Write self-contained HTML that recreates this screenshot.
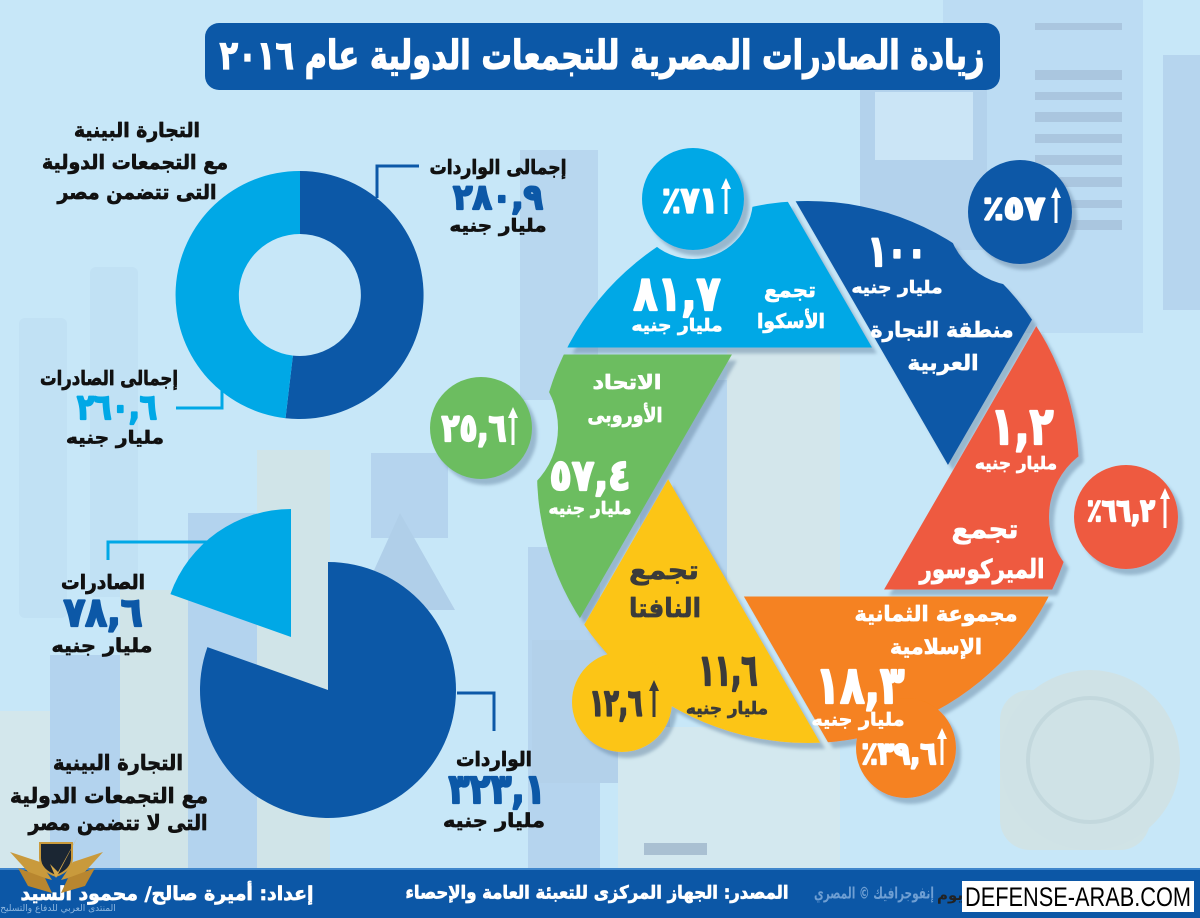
<!DOCTYPE html>
<html><head><meta charset="utf-8"><style>
html,body{margin:0;padding:0;background:#c7e7f8;width:1200px;height:918px;overflow:hidden;}
svg{display:block;overflow:hidden;}
text{font-family:"DejaVu Sans","Liberation Sans",sans-serif;font-weight:bold;paint-order:stroke;}
.n{stroke-width:2.2px;stroke-linejoin:round;}
.l{stroke-width:0.7px;stroke-linejoin:round;}
</style></head><body>
<svg width="1200" height="918" viewBox="0 0 1200 918" xmlns="http://www.w3.org/2000/svg">
<defs>
<clipPath id="rc"><circle cx="808" cy="472" r="271"/></clipPath>
<clipPath id="page"><rect x="0" y="0" width="1200" height="918"/></clipPath>
<mask id="m" maskUnits="userSpaceOnUse" x="0" y="0" width="1200" height="918">
<rect x="0" y="0" width="1200" height="918" fill="#fff"/>
<g stroke="#000" stroke-width="7" fill="none">
<path d="M948 472 L710 60"/><path d="M878 593 L1115 183"/><path d="M738 593 L1150 593"/>
<path d="M668 472 L900 874"/><path d="M738 351 L505 755"/><path d="M878 351 L450 351"/>
</g>
<circle cx="693" cy="199" r="60" fill="#000"/>
<circle cx="1020" cy="212" r="74" fill="#000"/>
<circle cx="481" cy="428" r="77" fill="#000"/>
<circle cx="1126" cy="517" r="77" fill="#000"/>
</mask>
<filter id="sh" x="-10%" y="-10%" width="130%" height="130%"><feDropShadow dx="5" dy="6" stdDeviation="1.5" flood-color="#5d7f9c" flood-opacity="0.45"/></filter>
</defs>
<g clip-path="url(#page)">
<!-- background -->
<rect x="0" y="0" width="1200" height="918" fill="#c7e7f8"/>
<g>
<rect x="19" y="318" width="48" height="300" rx="6" fill="#c1e1f4"/>
<rect x="90" y="267" width="48" height="330" rx="6" fill="#c1e1f4"/>
<rect x="0" y="711" width="50" height="160" fill="#d3e7ec"/>
<rect x="50" y="655" width="70" height="215" fill="#b3d3ee"/>
<rect x="120" y="590" width="68" height="280" fill="#d0e4e8"/>
<rect x="188" y="513" width="69" height="357" fill="#b3d3ee"/>
<rect x="257" y="450" width="73" height="420" fill="#d0e4e8"/>
<rect x="371" y="453" width="77" height="85" fill="#b5d4ee"/>
<polygon points="400,513 356,610 455,610" fill="#b0cfe9"/>
<rect x="528" y="547" width="72" height="323" fill="#b5d4ee"/>
<rect x="532" y="640" width="138" height="143" fill="#b3d1ea"/>
<rect x="618" y="727" width="222" height="143" fill="#d3e8ef"/>
<rect x="644" y="843" width="63" height="12" fill="#a9c0d2"/>
<rect x="520" y="150" width="78" height="250" fill="#b8d7ef"/>
<rect x="640" y="380" width="87" height="220" fill="#b7d6ef"/>
<rect x="727" y="349" width="113" height="250" fill="#d3e6eb"/>
<rect x="943" y="0" width="200" height="333" fill="#bcdcf3"/>
<g fill="#aac6df">
<rect x="1035" y="23" width="87" height="7"/><rect x="1035" y="70" width="87" height="10"/>
<rect x="1035" y="92" width="87" height="8"/><rect x="1035" y="112" width="87" height="10"/>
<rect x="1035" y="134" width="87" height="9"/><rect x="1035" y="155" width="87" height="10"/>
<rect x="1035" y="177" width="87" height="10"/><rect x="1035" y="200" width="87" height="8"/>
<rect x="1035" y="220" width="87" height="10"/>
</g>
<rect x="860" y="90" width="127" height="160" fill="#b3d2ec"/>
<rect x="875" y="92" width="98" height="68" fill="#cbe5f6"/>
<rect x="1163" y="55" width="37" height="255" fill="#b6d5ee"/>
<rect x="1000" y="690" width="150" height="160" rx="30" fill="#d0e3e6"/>
<circle cx="1090" cy="760" r="90" fill="#cfe2e6"/>
<circle cx="1090" cy="760" r="62" fill="none" stroke="#c3d8dd" stroke-width="4"/>
</g>

<!-- title -->
<rect x="205" y="23" width="795" height="67" rx="14" fill="#0c58a7"/>
<text x="602" y="56" text-anchor="middle" dominant-baseline="central" direction="rtl" font-size="40" fill="#fff" stroke="#fff" stroke-width="1.2" textLength="765" lengthAdjust="spacingAndGlyphs">زيادة الصادرات المصرية للتجمعات الدولية عام ٢٠١٦</text>

<!-- donut -->
<path d="M300 171 A124 124 0 1 1 285.5 418.2 L292.9 355.6 A61 61 0 1 0 300 234 Z" fill="#0c58a7"/>
<path d="M285.5 418.2 A124 124 0 0 1 300 171 L300 234 A61 61 0 0 0 292.9 355.6 Z" fill="#00a8e6"/>
<path d="M377 198 V166 H419" fill="none" stroke="#0c58a7" stroke-width="3"/>
<path d="M222 383 V408 H176" fill="none" stroke="#00a8e6" stroke-width="3"/>

<g fill="#111" stroke="#111" class="l" text-anchor="middle" dominant-baseline="central" direction="rtl">
<text class="l" x="137" y="130" font-size="20" textLength="126" lengthAdjust="spacingAndGlyphs">التجارة البينية</text>
<text class="l" x="135" y="162" font-size="20" textLength="186" lengthAdjust="spacingAndGlyphs">مع التجمعات الدولية</text>
<text class="l" x="137" y="192" font-size="20" textLength="159" lengthAdjust="spacingAndGlyphs">التى تتضمن مصر</text>
<text class="l" x="498" y="167" font-size="20" textLength="137" lengthAdjust="spacingAndGlyphs">إجمالى الواردات</text>
<text class="l" x="498" y="226" font-size="18" textLength="97" lengthAdjust="spacingAndGlyphs">مليار جنيه</text>
<text class="l" x="109" y="378" font-size="20" textLength="138" lengthAdjust="spacingAndGlyphs">إجمالى الصادرات</text>
<text class="l" x="115" y="438" font-size="18" textLength="98" lengthAdjust="spacingAndGlyphs">مليار جنيه</text>
<text class="l" x="103" y="582" font-size="20" textLength="84" lengthAdjust="spacingAndGlyphs">الصادرات</text>
<text class="l" x="102" y="646" font-size="19" textLength="101" lengthAdjust="spacingAndGlyphs">مليار جنيه</text>
<text class="l" x="118" y="763" font-size="21" textLength="130" lengthAdjust="spacingAndGlyphs">التجارة البينية</text>
<text class="l" x="109" y="796" font-size="21" textLength="198" lengthAdjust="spacingAndGlyphs">مع التجمعات الدولية</text>
<text class="l" x="118" y="823" font-size="21" textLength="179" lengthAdjust="spacingAndGlyphs">التى لا تتضمن مصر</text>
<text class="l" x="494" y="759" font-size="20" textLength="76" lengthAdjust="spacingAndGlyphs">الواردات</text>
<text class="l" x="494" y="821" font-size="19" textLength="102" lengthAdjust="spacingAndGlyphs">مليار جنيه</text>
</g>
<g text-anchor="middle" dominant-baseline="central">
<text class="n" x="498" y="198" font-size="35" fill="#0c58a7" stroke="#0c58a7" textLength="90" lengthAdjust="spacingAndGlyphs">٢٨٠,٩</text>
<text class="n" x="117" y="408" font-size="35" fill="#00a8e6" stroke="#00a8e6" textLength="80" lengthAdjust="spacingAndGlyphs">٢٦٠,٦</text>
<text class="n" x="103" y="613" font-size="40" fill="#0c58a7" stroke="#0c58a7" textLength="79" lengthAdjust="spacingAndGlyphs">٧٨,٦</text>
<text class="n" x="497" y="789" font-size="41" fill="#0c58a7" stroke="#0c58a7" textLength="97" lengthAdjust="spacingAndGlyphs">٣٢٣,١</text>
</g>

<!-- pie -->
<path d="M328 690 L328 562 A128 128 0 1 1 207.4 647.1 Z" fill="#0c58a7"/>
<path d="M291 637 L170.4 594.1 A128 128 0 0 1 291 509 Z" fill="#00a8e6"/>
<path d="M207 542 H108 V560" fill="none" stroke="#00a8e6" stroke-width="3"/>
<path d="M457 693 H494 V731" fill="none" stroke="#0c58a7" stroke-width="3"/>

<!-- ring -->
<g filter="url(#sh)">
<g mask="url(#m)">
<g clip-path="url(#rc)">
<polygon fill="#00a8e6" points="878,351 450,351 660,-10 710,-10"/>
<polygon fill="#0c58a7" points="948,472 670,-10 1226,-10"/>
<polygon fill="#ee5a40" points="878,593 1160,105 1160,593"/>
<polygon fill="#f58220" points="738,593 1160,593 1160,900 930,925"/>
<polygon fill="#fcc514" points="668,472 940,943 396,943"/>
<polygon fill="#6cbd61" points="738,351 466,822 440,822 440,351"/>
</g>
<circle fill="#fcc514" cx="622" cy="702" r="50"/>
<circle fill="#f58220" cx="906" cy="748" r="50"/>
</g>
</g>

<!-- bubbles -->
<g filter="url(#sh)">
<circle cx="693" cy="199" r="51" fill="#00a8e6"/>
<circle cx="1020" cy="212" r="52" fill="#0c58a7"/>
<circle cx="481" cy="428" r="51" fill="#6cbd61"/>
<circle cx="1126" cy="517" r="52" fill="#ee5a40"/>
</g>

<!-- ring texts -->
<g fill="#fff" stroke="#fff" text-anchor="middle" dominant-baseline="central" direction="rtl">
<text class="l" x="790" y="290" font-size="20" textLength="52" lengthAdjust="spacingAndGlyphs">تجمع</text>
<text class="l" x="791" y="321" font-size="20" textLength="68" lengthAdjust="spacingAndGlyphs">الأسكوا</text>
<text class="l" x="677" y="326" font-size="17" textLength="91" lengthAdjust="spacingAndGlyphs">مليار جنيه</text>
<text class="l" x="897" y="288" font-size="17" textLength="91" lengthAdjust="spacingAndGlyphs">مليار جنيه</text>
<text class="l" x="942" y="330" font-size="21" textLength="143" lengthAdjust="spacingAndGlyphs">منطقة التجارة</text>
<text class="l" x="943" y="363" font-size="21" textLength="71" lengthAdjust="spacingAndGlyphs">العربية</text>
<text class="l" x="1016" y="464" font-size="17" textLength="82" lengthAdjust="spacingAndGlyphs">مليار جنيه</text>
<text class="l" x="985" y="530" font-size="26" textLength="67" lengthAdjust="spacingAndGlyphs">تجمع</text>
<text class="l" x="982" y="570" font-size="26" textLength="125" lengthAdjust="spacingAndGlyphs">الميركوسور</text>
<text class="l" x="627" y="382" font-size="20" textLength="69" lengthAdjust="spacingAndGlyphs">الاتحاد</text>
<text class="l" x="625" y="415" font-size="20" textLength="75" lengthAdjust="spacingAndGlyphs">الأوروبى</text>
<text class="l" x="590" y="509" font-size="17" textLength="83" lengthAdjust="spacingAndGlyphs">مليار جنيه</text>
<text class="l" x="936" y="614" font-size="21" textLength="163" lengthAdjust="spacingAndGlyphs">مجموعة الثمانية</text>
<text class="l" x="936" y="647" font-size="21" textLength="92" lengthAdjust="spacingAndGlyphs">الإسلامية</text>
<text class="l" x="858" y="720" font-size="18" textLength="93" lengthAdjust="spacingAndGlyphs">مليار جنيه</text>
</g>
<g fill="#3b3b3b" stroke="#3b3b3b" text-anchor="middle" dominant-baseline="central" direction="rtl">
<text class="l" x="664" y="571" font-size="26" textLength="70" lengthAdjust="spacingAndGlyphs">تجمع</text>
<text class="l" x="665" y="609" font-size="26" textLength="72" lengthAdjust="spacingAndGlyphs">النافتا</text>
<text class="l" x="727" y="709" font-size="17" textLength="82" lengthAdjust="spacingAndGlyphs">مليار جنيه</text>
</g>
<g fill="#fff" stroke="#fff" text-anchor="middle" dominant-baseline="central">
<text class="n" x="677" y="294" font-size="48" textLength="87" lengthAdjust="spacingAndGlyphs">٨١,٧</text>
<text class="n" x="897" y="252" font-size="43" textLength="59" lengthAdjust="spacingAndGlyphs">١٠٠</text>
<text class="n" x="1022" y="427" font-size="52" textLength="63" lengthAdjust="spacingAndGlyphs">١,٢</text>
<text class="n" x="590" y="476" font-size="43" textLength="81" lengthAdjust="spacingAndGlyphs">٥٧,٤</text>
<text class="n" x="860" y="686" font-size="52" textLength="89" lengthAdjust="spacingAndGlyphs">١٨,٣</text>
<text class="n" x="690" y="201" font-size="36" textLength="56" lengthAdjust="spacingAndGlyphs">٪٧١</text>
<text class="n" x="1014" y="208" font-size="33" textLength="62" lengthAdjust="spacingAndGlyphs">٪٥٧</text>
<text class="n" x="474" y="428" font-size="38" textLength="65" lengthAdjust="spacingAndGlyphs">٢٥,٦</text>
<text class="n" x="1121" y="511" font-size="31" textLength="68" lengthAdjust="spacingAndGlyphs">٪٦٦,٢</text>
<text class="n" x="899" y="754" font-size="31" textLength="75" lengthAdjust="spacingAndGlyphs">٪٣٩,٦</text>
</g>
<g fill="#3b3b3b" stroke="#3b3b3b" text-anchor="middle" dominant-baseline="central">
<text class="n" x="728" y="671" font-size="43" textLength="59" lengthAdjust="spacingAndGlyphs">١١,٦</text>
<text class="n" x="616" y="703" font-size="37" textLength="53" lengthAdjust="spacingAndGlyphs">١٢,٦</text>
</g>

<!-- arrows -->
<g stroke="#fff" stroke-width="3">
<line x1="726" y1="186" x2="726" y2="214"/>
<line x1="1056" y1="195" x2="1056" y2="223"/>
<line x1="513" y1="415" x2="513" y2="445"/>
<line x1="1165" y1="496" x2="1165" y2="528"/>
<line x1="942" y1="736" x2="942" y2="765"/>
</g>
<g fill="#fff">
<polygon points="721,189 726,178 731,189"/>
<polygon points="1051,198 1056,187 1061,198"/>
<polygon points="508,418 513,407 518,418"/>
<polygon points="1160,499 1165,488 1170,499"/>
<polygon points="937,739 942,728 947,739"/>
</g>
<line x1="654" y1="688" x2="654" y2="717" stroke="#3b3b3b" stroke-width="3"/>
<polygon points="649,691 654,680 659,691" fill="#3b3b3b"/>

<!-- footer -->
<rect x="0" y="870" width="1200" height="48" fill="#0c57a6"/>
<rect x="0" y="868" width="1200" height="2" fill="#3f86cc"/>
<g fill="#fff" stroke="#fff" text-anchor="middle" dominant-baseline="central" direction="rtl">
<text class="l" x="597" y="893" font-size="18" textLength="383" lengthAdjust="spacingAndGlyphs">المصدر: الجهاز المركزى للتعبئة العامة والإحصاء</text>
<text class="l" x="167" y="894" font-size="19" textLength="293" lengthAdjust="spacingAndGlyphs">إعداد: أميرة صالح/ محمود السيد</text>
</g>
<text x="874" y="893" text-anchor="middle" dominant-baseline="central" direction="rtl" font-size="16" fill="#6f9fd3" textLength="120" lengthAdjust="spacingAndGlyphs">إنفوجرافيك © المصري</text>
<text x="950" y="895" text-anchor="middle" dominant-baseline="central" direction="rtl" font-size="15" fill="#222" textLength="26" lengthAdjust="spacingAndGlyphs">يوم</text>
<rect x="962" y="881" width="232" height="31" fill="#fff"/>
<text x="1078" y="897" text-anchor="middle" dominant-baseline="central" font-size="27" fill="#000" textLength="226" lengthAdjust="spacingAndGlyphs" style="font-family:'Liberation Sans',sans-serif;font-weight:normal">DEFENSE-ARAB.COM</text>

<!-- logo -->
<g>
<polygon points="10,852 40,862 52,880 30,874" fill="#c99a3c"/>
<polygon points="103,852 73,862 61,880 83,874" fill="#c99a3c"/>
<polygon points="18,868 45,878 52,893 28,886" fill="#b8862f"/>
<polygon points="95,868 68,878 61,893 85,886" fill="#b8862f"/>
<path d="M40 843 H72 V858 Q72 870 56 876 Q40 870 40 858 Z" fill="#1b2633" stroke="#c99a3c" stroke-width="2"/>
<polygon points="50,864 56,878 78,836 58,872" fill="#d6a84a"/>
<text x="58" y="909" text-anchor="middle" dominant-baseline="central" direction="rtl" font-size="9" fill="#8fb8e0" style="font-weight:normal">المنتدى العربي للدفاع والتسليح</text>
</g>
</g>
</svg>
</body></html>
